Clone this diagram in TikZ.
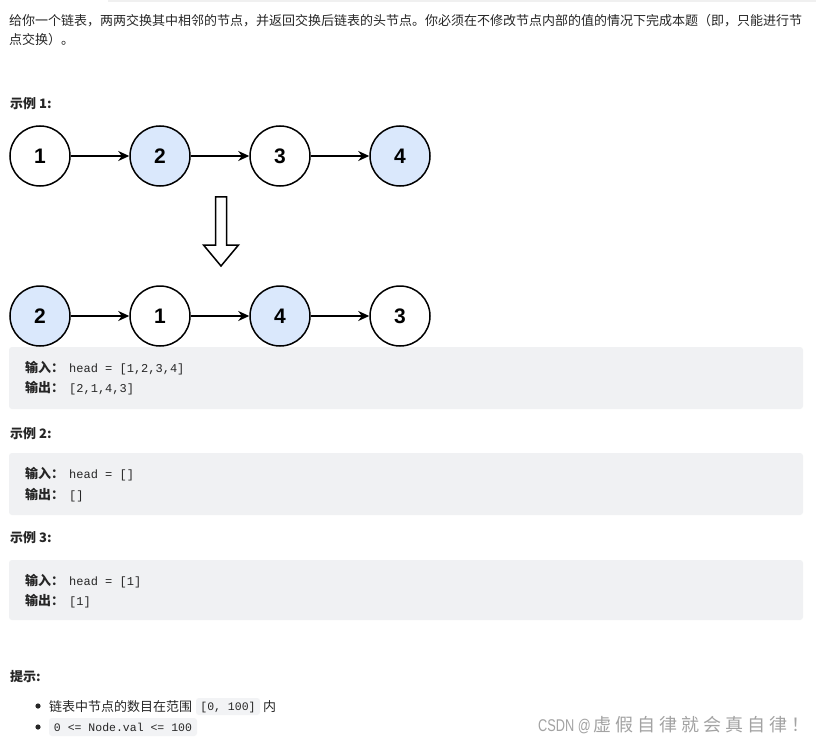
\documentclass[tikz,border=0pt]{standalone}
\usepackage{fontspec}
\setmainfont{Noto Sans CJK SC}
\newfontfamily\codefont{Liberation Mono}
\newfontfamily\numfont{Liberation Sans}
\usetikzlibrary{arrows.meta}
\definecolor{txt}{HTML}{262626}
\definecolor{nodeblue}{HTML}{DAE8FC}
\definecolor{boxgray}{HTML}{F0F1F3}
\definecolor{codegray}{HTML}{F2F3F5}
\definecolor{wm}{HTML}{A3A3A3}
\definecolor{topline}{HTML}{F0F0F0}
\begin{document}
\begin{tikzpicture}[x=1pt,y=-1pt,
  listnode/.style={circle, draw=black, line width=1.5pt, minimum size=60pt, inner sep=0pt,
    font=\numfont\bfseries\fontsize{21}{21}\selectfont},
  bluenode/.style={listnode, fill=nodeblue},
  whitenode/.style={listnode, fill=white},
  link/.style={-{Stealth[length=11pt,width=10pt,inset=3.5pt]}, line width=1.5pt},
  plain/.style={anchor=base west, inner sep=0pt, text=txt, font=\fontsize{13}{13}\selectfont},
  heading/.style={plain, font=\bfseries\fontsize{13}{13}\selectfont},
  code/.style={anchor=base west, inner sep=0pt, text=txt, font=\codefont\fontsize{12}{12}\selectfont},
  hintcode/.style={anchor=base, inner sep=0pt, text=txt, font=\codefont\fontsize{11.5}{11.5}\selectfont},
  examplebox/.style={fill=boxgray, rounded corners=3pt},
  inlinebox/.style={fill=codegray, rounded corners=3pt},
  watermark/.style={anchor=base west, inner sep=0pt, text=wm}
]
\useasboundingbox (0,0) rectangle (816,746);
\fill[white] (0,0) rectangle (816,746);
\fill[topline] (108,0) rectangle (816,2);

% description
\node[plain] (d1) at (9,26) {给你一个链表，两两交换其中相邻的节点，并返回交换后链表的头节点。你必须在不修改节点内部的值的情况下完成本题（即，只能进行节};
\node[plain] (d2) at (9,45) {点交换）。};

% example 1
\node[heading] (ex1) at (10,109) {示例 1:};

\node[whitenode] (a1) at (40,156) {1};
\node[bluenode]  (a2) at (160,156) {2};
\node[whitenode] (a3) at (280,156) {3};
\node[bluenode]  (a4) at (400,156) {4};
\draw[link] (a1) -- (a2);
\draw[link] (a2) -- (a3);
\draw[link] (a3) -- (a4);

\draw[line width=1.5pt, fill=white, line join=miter]
  (215.5,197) -- (226.5,197) -- (226.5,245) -- (238.5,245) -- (221,266)
  -- (203.5,245) -- (215.5,245) -- cycle;

\node[bluenode]  (b1) at (40,316) {2};
\node[whitenode] (b2) at (160,316) {1};
\node[bluenode]  (b3) at (280,316) {4};
\node[whitenode] (b4) at (400,316) {3};
\draw[link] (b1) -- (b2);
\draw[link] (b2) -- (b3);
\draw[link] (b3) -- (b4);

\fill[examplebox] (9,347) rectangle (803,409);
\node[heading] (in1) at (25,372) {输入：};
\node[code] (in1v) at (69,372) {head = [1,2,3,4]};
\node[heading] (out1) at (25,392) {输出：};
\node[code] (out1v) at (69,392) {[2,1,4,3]};

% example 2
\node[heading] (ex2) at (10,438) {示例 2:};
\fill[examplebox] (9,453) rectangle (803,515);
\node[heading] (in2) at (25,478) {输入：};
\node[code] (in2v) at (69,478) {head = []};
\node[heading] (out2) at (25,499) {输出：};
\node[code] (out2v) at (69,499) {[]};

% example 3
\node[heading] (ex3) at (10,542) {示例 3:};
\fill[examplebox] (9,560) rectangle (803,620);
\node[heading] (in3) at (25,585) {输入：};
\node[code] (in3v) at (69,585) {head = [1]};
\node[heading] (out3) at (25,605) {输出：};
\node[code] (out3v) at (69,605) {[1]};

% hints
\node[heading] (hint) at (10,681) {提示:};
\fill[txt] (38,706) circle (2.6pt);
\fill[txt] (38,727) circle (2.6pt);
\node[plain] (h1) at (49,711) {链表中节点的数目在范围};
\fill[inlinebox] (196,698) rectangle (260,715);
\node[hintcode] (h1c) at (228,710.5) {[0, 100]};
\node[plain] (h1e) at (263,711) {内};
\fill[inlinebox] (49,718) rectangle (197,736);
\node[hintcode] (h2c) at (123,731.5) {0 <= Node.val <= 100};

% watermark
\node[watermark, xscale=0.75, font=\numfont\fontsize{17}{17}\selectfont] (wm1) at (538,731) {CSDN @};
\node[watermark, font=\fontsize{18}{18}\selectfont] (wm2) at (593,731.5)
  {虚\hspace{4pt}假\hspace{4pt}自\hspace{4pt}律\hspace{4pt}就\hspace{4pt}会\hspace{4pt}真\hspace{4pt}自\hspace{4pt}律\hspace{4pt}！};
\end{tikzpicture}
\end{document}
